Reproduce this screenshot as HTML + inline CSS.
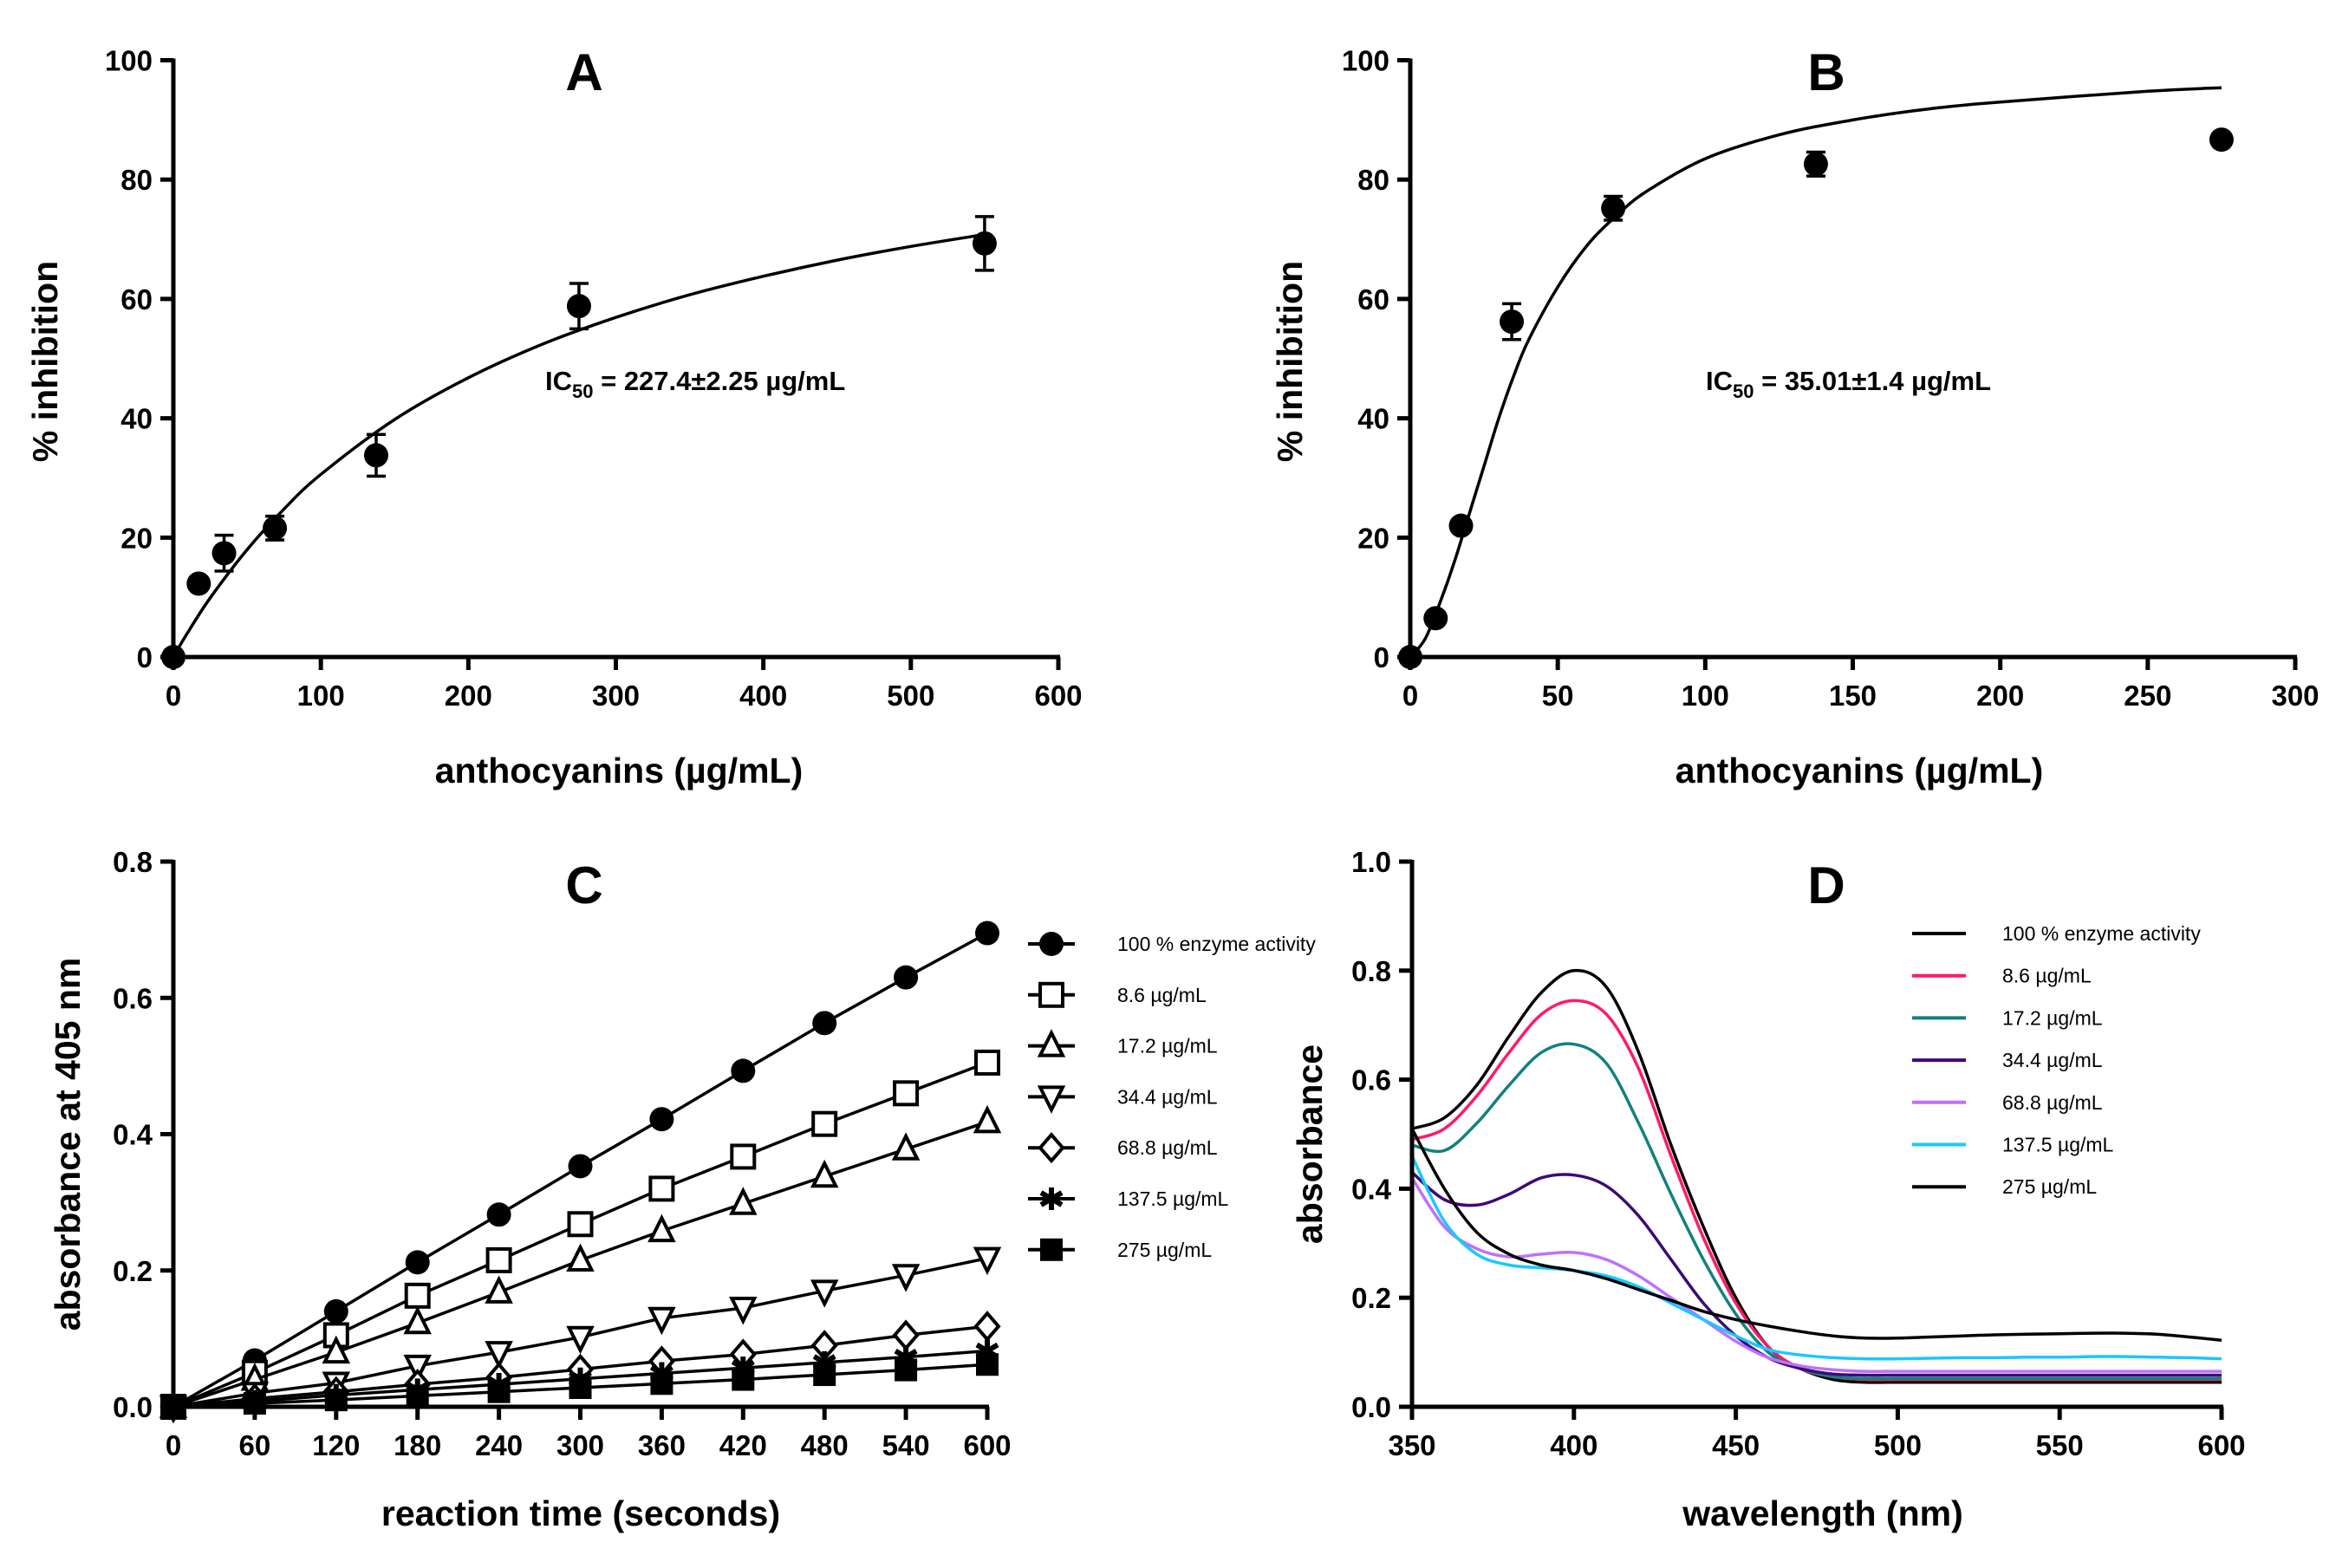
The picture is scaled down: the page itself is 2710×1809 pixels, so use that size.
<!DOCTYPE html>
<html><head><meta charset="utf-8">
<style>
html,body{margin:0;padding:0;background:#fff;}
svg{display:block;font-family:"Liberation Sans",Arial,sans-serif;}
</style></head>
<body>
<svg id="fig" width="2710" height="1809" viewBox="0 0 2710 1809" xmlns="http://www.w3.org/2000/svg"></svg>
<script>
// ---- Panel A data ----
const aX = [0, 17.2, 34.4, 68.8, 137.5, 275, 550];
const aY = [0, 12.3, 17.4, 21.6, 33.8, 58.8, 69.3];
const aErr = [0, 0, 3, 2, 3.5, 3.8, 4.5];
const aFitX = [0, 10, 25, 50, 75, 100, 150, 200, 250, 300, 350, 400, 450, 500, 550];
const aFitY = [0, 4.2, 9.9, 18.0, 24.8, 30.6, 39.8, 46.8, 52.4, 56.9, 60.7, 63.8, 66.5, 68.8, 70.8];
const aXTicks = [0, 100, 200, 300, 400, 500, 600];
const aYTicks = [0, 20, 40, 60, 80, 100];
// ---- Panel B data ----
const bX = [0, 8.6, 17.2, 34.4, 68.8, 137.5, 275];
const bY = [0, 6.5, 22, 56.2, 75.2, 82.6, 86.7];
const bErr = [0, 0, 0, 3, 2, 2, 0];
const bFitX = [0, 5, 10, 15, 20, 25, 30, 35, 40, 50, 60, 70, 80, 100, 125, 150, 175, 200, 250, 275];
const bFitY = [0, 3, 9, 16, 24, 32, 40, 47, 53, 62, 69, 74, 78, 83.5, 87.5, 90, 91.8, 93, 94.8, 95.4];
const bXTicks = [0, 50, 100, 150, 200, 250, 300];
const bYTicks = [0, 20, 40, 60, 80, 100];
// ---- Panel C data ----
const cTimes = [0, 60, 120, 180, 240, 300, 360, 420, 480, 540, 600];
const cLabels = ["100 % enzyme activity", "8.6 µg/mL", "17.2 µg/mL", "34.4 µg/mL", "68.8 µg/mL", "137.5 µg/mL", "275 µg/mL"];
const cS0 = [0, 0.068, 0.14, 0.212, 0.282, 0.353, 0.422, 0.493, 0.563, 0.63, 0.695];
const cS1 = [0, 0.05, 0.105, 0.163, 0.215, 0.268, 0.32, 0.367, 0.415, 0.46, 0.505];
const cS2 = [0, 0.04, 0.08, 0.123, 0.168, 0.215, 0.258, 0.298, 0.338, 0.378, 0.418];
const cS3 = [0, 0.02, 0.035, 0.06, 0.08, 0.102, 0.13, 0.145, 0.17, 0.193, 0.218];
const cS4 = [0, 0.012, 0.022, 0.033, 0.043, 0.055, 0.067, 0.077, 0.09, 0.105, 0.118];
const cS5 = [0, 0.008, 0.017, 0.025, 0.033, 0.041, 0.049, 0.057, 0.065, 0.073, 0.082];
const cS6 = [0, 0.005, 0.01, 0.016, 0.022, 0.028, 0.034, 0.04, 0.047, 0.054, 0.062];
const cYTicks = ["0.0", "0.2", "0.4", "0.6", "0.8"];
// ---- Panel D data ----
const dWave = [350,360,370,380,390,400,410,420,430,440,450,460,470,480,490,500,510,520,530,540,550,560,570,580,590,600];
const dLabels = ["100 % enzyme activity", "8.6 µg/mL", "17.2 µg/mL", "34.4 µg/mL", "68.8 µg/mL", "137.5 µg/mL", "275 µg/mL"];
const dColors = ["#000000", "#ff1a66", "#138080", "#3d0a78", "#bf70ff", "#1ac8ff", "#000000"];
const dS0 = [0.51,0.53,0.59,0.68,0.76,0.80,0.77,0.65,0.48,0.33,0.20,0.11,0.07,0.05,0.045,0.045,0.045,0.045,0.045,0.045,0.045,0.045,0.045,0.045,0.045,0.045];
const dS1 = [0.49,0.51,0.57,0.65,0.72,0.745,0.72,0.62,0.46,0.31,0.19,0.11,0.07,0.055,0.05,0.05,0.05,0.05,0.05,0.05,0.05,0.05,0.05,0.05,0.05,0.05];
const dS2 = [0.48,0.47,0.52,0.59,0.65,0.665,0.63,0.52,0.39,0.27,0.17,0.10,0.07,0.055,0.052,0.052,0.052,0.052,0.052,0.052,0.052,0.052,0.052,0.052,0.052,0.052];
const dS3 = [0.43,0.38,0.37,0.39,0.42,0.425,0.405,0.35,0.27,0.19,0.13,0.09,0.07,0.06,0.058,0.058,0.058,0.058,0.058,0.058,0.058,0.058,0.058,0.058,0.058,0.058];
const dS4 = [0.42,0.33,0.29,0.275,0.28,0.283,0.27,0.24,0.20,0.16,0.12,0.09,0.075,0.068,0.065,0.065,0.065,0.065,0.065,0.065,0.065,0.065,0.065,0.065,0.065,0.065];
const dS5 = [0.46,0.34,0.28,0.26,0.255,0.25,0.24,0.22,0.19,0.16,0.13,0.105,0.095,0.09,0.088,0.088,0.089,0.09,0.09,0.091,0.091,0.092,0.092,0.091,0.09,0.088];
const dS6 = [0.51,0.40,0.32,0.28,0.26,0.25,0.235,0.215,0.195,0.175,0.16,0.148,0.138,0.13,0.126,0.126,0.128,0.13,0.132,0.133,0.134,0.135,0.135,0.133,0.128,0.122];
const dXTicks = [350, 400, 450, 500, 550, 600];
const dYTicks = ["0.0", "0.2", "0.4", "0.6", "0.8", "1.0"];

const NS = "http://www.w3.org/2000/svg";
const svg = document.getElementById("fig");
function mk(tag, attrs, parent) {
  const e = document.createElementNS(NS, tag);
  for (const k in attrs) e.setAttribute(k, attrs[k]);
  (parent || svg).appendChild(e);
  return e;
}
function txt(s, attrs, parent) { const t = mk("text", attrs, parent); t.textContent = s; return t; }

function axes(g, p, xTicks, yTicks, xFmt, yFmt) {
  const ax = mk("g", {}, g);
  
  
  mk("line", {x1: p.x0, y1: p.y0 + 2, x2: p.x0, y2: p.y1 - 2, stroke: "#000", "stroke-width": 5}, ax);
  mk("line", {x1: p.x0 - 2, y1: p.y0, x2: p.x1 + 2, y2: p.y0, stroke: "#000", "stroke-width": 5}, ax);
  xTicks.forEach(v => {
    const x = p.sx(v);
    mk("line", {x1: x, y1: p.y0, x2: x, y2: p.y0 + 15, stroke: "#000", "stroke-width": 5}, ax);
    const t = txt(xFmt(v), {x: x, y: p.y0 + 56, "font-size": 33, "font-weight": "bold", "text-anchor": "middle"}, ax);
    
    
  });
  yTicks.forEach(v => {
    const y = p.sy(parseFloat(v));
    mk("line", {x1: p.x0 - 15, y1: y, x2: p.x0, y2: y, stroke: "#000", "stroke-width": 5}, ax);
    const t = txt(yFmt(v), {x: p.x0 - 24, y: y + 12, "font-size": 33, "font-weight": "bold", "text-anchor": "end"}, ax);
    
    
  });
}
function makeScale(x0, x1, xmin, xmax, y0, y1, ymin, ymax) {
  return {x0, x1, y0, y1,
    sx: v => x0 + (v - xmin) / (xmax - xmin) * (x1 - x0),
    sy: v => y0 - (v - ymin) / (ymax - ymin) * (y0 - y1)};
}
function smoothPath(p, xs, ys) {
  const pts = xs.map((x, i) => [p.sx(x), p.sy(ys[i])]);
  let d = `M${pts[0][0].toFixed(1)},${pts[0][1].toFixed(1)}`;
  for (let i = 0; i < pts.length - 1; i++) {
    const p0 = pts[i - 1] || pts[i], p1 = pts[i], p2 = pts[i + 1], p3 = pts[i + 2] || p2;
    const c1 = [p1[0] + (p2[0] - p0[0]) / 6, p1[1] + (p2[1] - p0[1]) / 6];
    const c2 = [p2[0] - (p3[0] - p1[0]) / 6, p2[1] - (p3[1] - p1[1]) / 6];
    d += ` C${c1[0].toFixed(1)},${c1[1].toFixed(1)} ${c2[0].toFixed(1)},${c2[1].toFixed(1)} ${p2[0].toFixed(1)},${p2[1].toFixed(1)}`;
  }
  return d;
}
function titles(g, letter, lx, ly, xt, xtx, xty, yt, ytx, yty) {
  let t = txt(letter, {x: lx, y: ly, "font-size": 60, "font-weight": "bold", "text-anchor": "middle"}, g);
  
  
  t = txt(xt, {x: xtx, y: xty, "font-size": 41, "font-weight": "bold", "text-anchor": "middle"}, g);
  
  
  t = txt(yt, {x: 0, y: 0, "font-size": 41, "font-weight": "bold", "text-anchor": "middle", transform: `translate(${ytx},${yty}) rotate(-90)`}, g);
  
  
}
function doseResponse(name, p, xs, ys, errs, fx, fy, ic) {
  const g = mk("g", {});
  
  
  const c = mk("path", {d: smoothPath(p, fx, fy), fill: "none", stroke: "#000", "stroke-width": 3.5}, g);
  
  
  xs.forEach((v, i) => {
    const x = p.sx(v), y = p.sy(ys[i]);
    if (errs[i] > 0) {
      const yt = p.sy(ys[i] + errs[i]), yb = p.sy(ys[i] - errs[i]);
      const e = mk("path", {d: `M${x},${yt} L${x},${yb} M${x-11},${yt} L${x+11},${yt} M${x-11},${yb} L${x+11},${yb}`, stroke: "#000", "stroke-width": 3.5, fill: "none"}, g);
      
      
    }
    const m = mk("circle", {cx: x, cy: y, r: 14, fill: "#000"}, g);
    
    
  });
  const t = mk("text", {x: ic.x, y: ic.y, "font-size": 31, "font-weight": "bold"}, g);
  
  
  t.innerHTML = `IC<tspan font-size="22" dy="9">50</tspan><tspan dy="-9"> = ${ic.s}</tspan>`;
  return g;
}

// Panel A
const pA = makeScale(200, 1221, 0, 600, 758, 69.5, 0, 100);
const gA = doseResponse("panel-a", pA, aX, aY, aErr, aFitX, aFitY, {x: 629, y: 450, s: "227.4±2.25 µg/mL"});
axes(gA, pA, aXTicks, aYTicks, v => String(v), v => String(v));
titles(gA, "A", 674, 104, "anthocyanins (µg/mL)", 714, 903, "% inhibition", 66, 417);

// Panel B
const pB = makeScale(1627, 2648, 0, 300, 758, 69.5, 0, 100);
const gB = doseResponse("panel-b", pB, bX, bY, bErr, bFitX, bFitY, {x: 1968, y: 450, s: "35.01±1.4 µg/mL"});
axes(gB, pB, bXTicks, bYTicks, v => String(v), v => String(v));
titles(gB, "B", 2107, 104, "anthocyanins (µg/mL)", 2145, 903, "% inhibition", 1502, 417);

// Panel C
const pC = makeScale(200, 1139, 0, 600, 1623, 994, 0, 0.8);
const gC = mk("g", {});


const cSeries = [cS0, cS1, cS2, cS3, cS4, cS5, cS6];
function marker(g, type, x, y) {
  const sw = 4;
  let e;
  if (type === 0) e = mk("circle", {cx: x, cy: y, r: 14, fill: "#000"}, g);
  else if (type === 1) e = mk("rect", {x: x - 13, y: y - 13, width: 26, height: 26, fill: "#fff", stroke: "#000", "stroke-width": sw}, g);
  else if (type === 2) e = mk("path", {d: `M${x},${y-15} L${x+13},${y+11} L${x-13},${y+11} Z`, fill: "#fff", stroke: "#000", "stroke-width": sw}, g);
  else if (type === 3) e = mk("path", {d: `M${x},${y+15} L${x+13},${y-11} L${x-13},${y-11} Z`, fill: "#fff", stroke: "#000", "stroke-width": sw}, g);
  else if (type === 4) e = mk("path", {d: `M${x},${y-15} L${x+13},${y} L${x},${y+15} L${x-13},${y} Z`, fill: "#fff", stroke: "#000", "stroke-width": sw}, g);
  else if (type === 5) e = mk("path", {d: `M${x},${y-13} L${x},${y+13} M${x-12},${y-7} L${x+12},${y+7} M${x-12},${y+7} L${x+12},${y-7}`, stroke: "#000", "stroke-width": 6}, g);
  else e = mk("rect", {x: x - 13, y: y - 13, width: 26, height: 26, fill: "#000"}, g);
  
  
}
cSeries.forEach((s, k) => {
  const sg = mk("g", {}, gC);
  
  
  const d = cTimes.map((t, i) => (i ? "L" : "M") + pC.sx(t).toFixed(1) + "," + pC.sy(s[i]).toFixed(1)).join(" ");
  const l = mk("path", {d, fill: "none", stroke: "#000", "stroke-width": 3.5}, sg);
  
  
  cTimes.forEach((t, i) => marker(sg, k, pC.sx(t), pC.sy(s[i])));
  const ly = 1089 + 58.8 * k;
  const lg = mk("g", {}, gC);
  
  
  mk("line", {x1: 1186, y1: ly, x2: 1240, y2: ly, stroke: "#000", "stroke-width": 4}, lg);
  marker(lg, k, 1213, ly);
  txt(cLabels[k], {x: 1289, y: ly + 8, "font-size": 23}, lg);
});
axes(gC, pC, cTimes, cYTicks, v => String(v), v => v);
titles(gC, "C", 674, 1042, "reaction time (seconds)", 670, 1760, "absorbance at 405 nm", 92, 1320);

// Panel D
const pD = makeScale(1629, 2563, 350, 600, 1623, 994, 0, 1.0);
const gD = mk("g", {});


const dSeries = [dS0, dS1, dS2, dS3, dS4, dS5, dS6];
dSeries.forEach((s, k) => {
  const l = mk("path", {d: smoothPath(pD, dWave, s), fill: "none", stroke: dColors[k], "stroke-width": 3.5}, gD);
  
  
  const ly = 1077 + 48.7 * k;
  const lg = mk("g", {}, gD);
  
  
  mk("line", {x1: 2206, y1: ly, x2: 2268, y2: ly, stroke: dColors[k], "stroke-width": 4}, lg);
  txt(dLabels[k], {x: 2310, y: ly + 8, "font-size": 23}, lg);
});
axes(gD, pD, dXTicks, dYTicks, v => String(v), v => v);
titles(gD, "D", 2107, 1042, "wavelength (nm)", 2103, 1760, "absorbance", 1525, 1320);
</script>
</body></html>
